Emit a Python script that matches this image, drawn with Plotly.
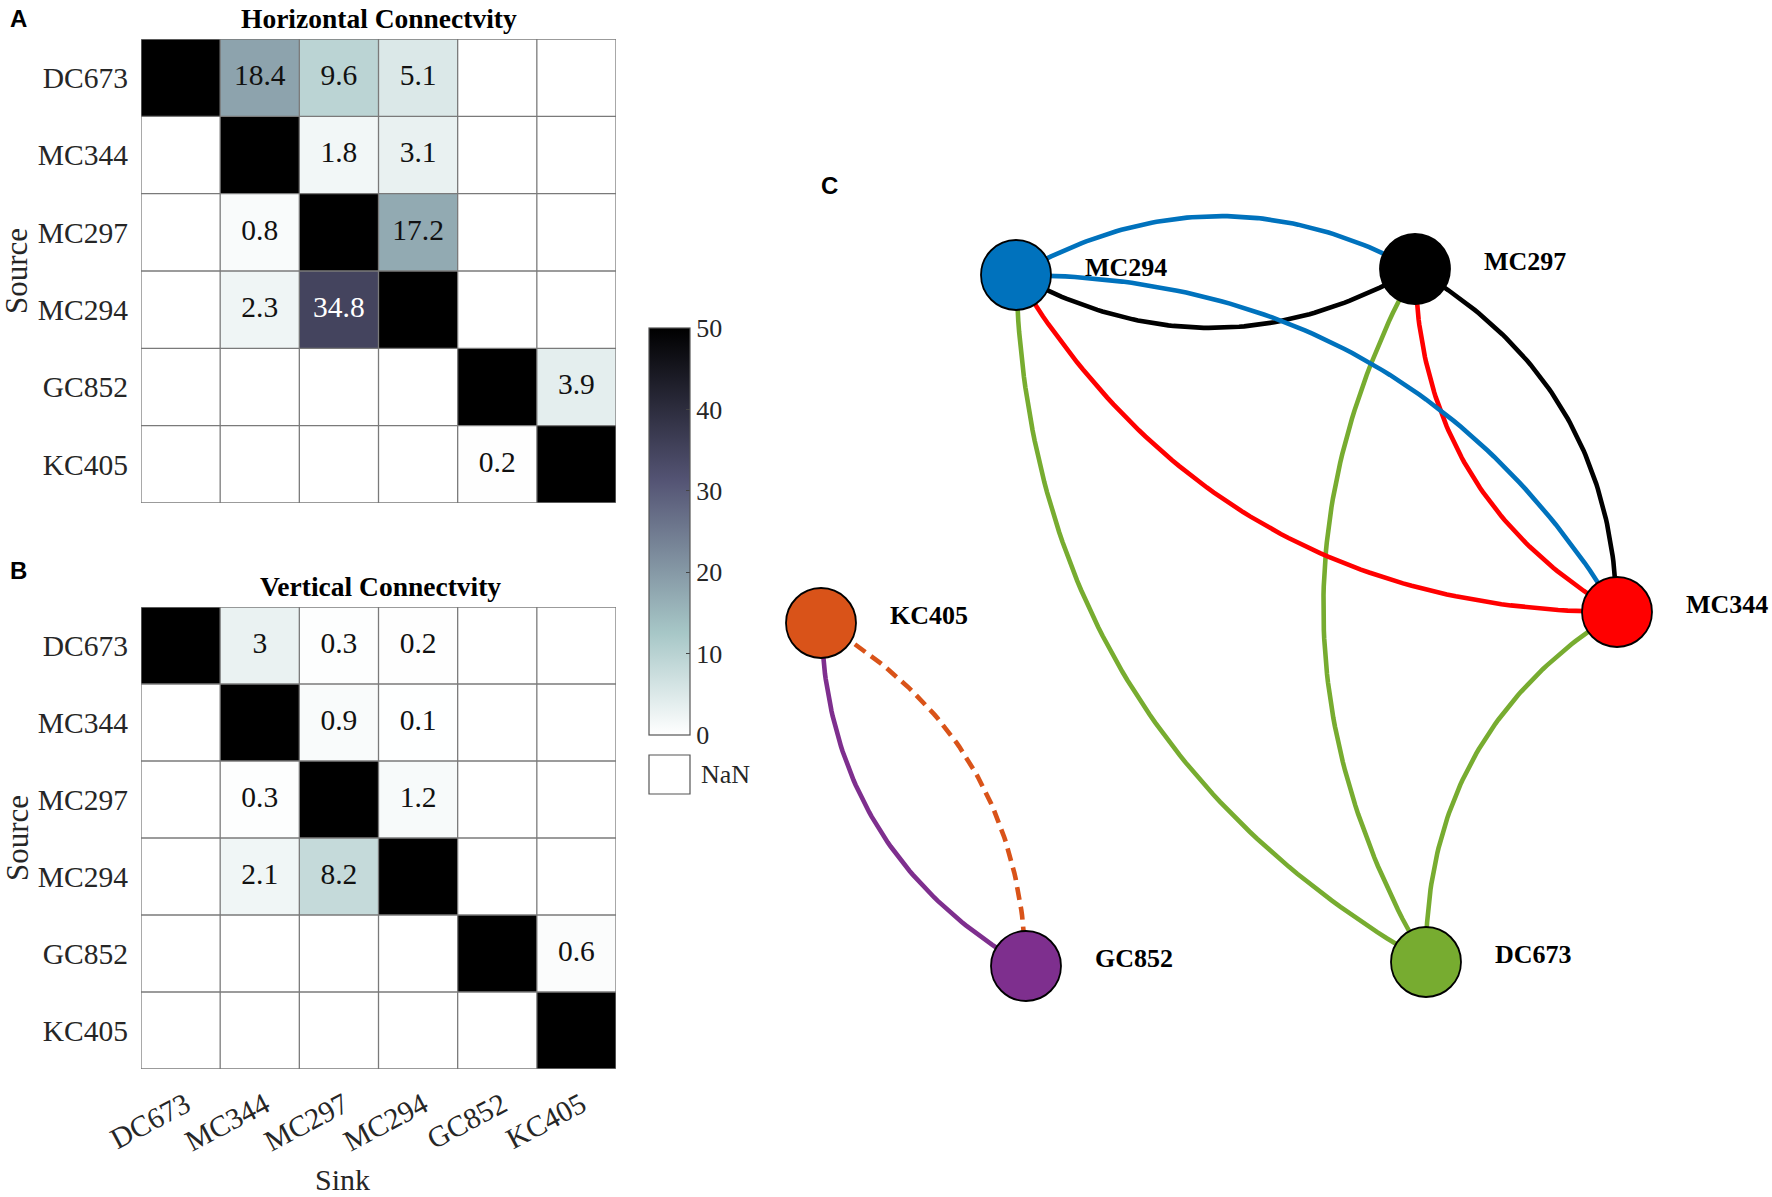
import numpy as np
import plotly.graph_objects as go

# ---------------- data ----------------
sites = ["DC673", "MC344", "MC297", "MC294", "GC852", "KC405"]

# rows = source, columns = sink (None = NaN / no connection)
horizontal = [
    [None, 18.4, 9.6, 5.1, None, None],
    [None, None, 1.8, 3.1, None, None],
    [None, 0.8, None, 17.2, None, None],
    [None, 2.3, 34.8, None, None, None],
    [None, None, None, None, None, 3.9],
    [None, None, None, None, 0.2, None],
]
vertical = [
    [None, 3, 0.3, 0.2, None, None],
    [None, None, 0.9, 0.1, None, None],
    [None, 0.3, None, 1.2, None, None],
    [None, 2.1, 8.2, None, None, None],
    [None, None, None, None, None, 0.6],
    [None, None, None, None, None, None],
]
self_value = 100          # diagonal (self-retention) drawn saturated
colorbar_ticks = [0, 10, 20, 30, 40, 50]

# ---------------- styles / layout ----------------
W, H = 1772, 1197
SERIF = "Liberation Serif"
SANS = "Liberation Sans"
TXT = "#262626"

node_pos = {  # panel C node centres (pixel space)
    "MC294": (1016, 275), "MC297": (1415, 269), "MC344": (1617, 612),
    "DC673": (1426, 962), "GC852": (1026, 966), "KC405": (821, 623),
}
node_color = {
    "MC294": "#0072BD", "MC297": "#000000", "MC344": "#FF0000",
    "DC673": "#77AC30", "GC852": "#7E2F8E", "KC405": "#D95319",
}
dashed_edges = {("KC405", "GC852")}

bone_r = [[0.0, "rgb(255,255,255)"], [0.25, "rgb(167,199,199)"],
          [0.625, "rgb(84,84,116)"], [1.0, "rgb(0,0,0)"]]


def px_x(p):
    return p / W


def px_y(p):
    return 1 - p / H


def with_diag(m):
    out = [list(r) for r in m]
    for i in range(len(out)):
        out[i][i] = self_value
    return out


def fmt(v):
    return f"{v:g}"


fig = go.Figure()

grids = [("x", "y", horizontal), ("x2", "y2", vertical)]
for xa, ya, mat in grids:
    fig.add_trace(go.Heatmap(z=with_diag(mat), x=sites, y=sites, coloraxis="coloraxis",
                             xaxis=xa, yaxis=ya, hoverongaps=False))
    tx, ty, tt, tc = [], [], [], []
    for i, row in enumerate(mat):
        for j, v in enumerate(row):
            if v is not None:
                tx.append(sites[j]); ty.append(sites[i]); tt.append(fmt(v))
                tc.append("#ffffff" if v > 30 else "#111111")
    fig.add_trace(go.Scatter(x=tx, y=ty, text=tt, mode="text", xaxis=xa, yaxis=ya,
                             textfont=dict(family=SERIF, size=29.5, color=tc),
                             hoverinfo="skip", showlegend=False))
    n = len(sites)
    for b in range(n + 1):
        fig.add_shape(type="line", xref=xa, yref=ya, x0=b - 0.5, x1=b - 0.5, y0=-0.5, y1=n - 0.5,
                      line=dict(color="#7a7a7a", width=1.3))
        fig.add_shape(type="line", xref=xa, yref=ya, y0=b - 0.5, y1=b - 0.5, x0=-0.5, x1=n - 0.5,
                      line=dict(color="#7a7a7a", width=1.3))

# ---------------- network (panel C) ----------------
edges = []
for i, row in enumerate(horizontal):
    for j, v in enumerate(row):
        if v is not None and i != j:
            edges.append((sites[i], sites[j], v))

t = np.linspace(0, 1, 80)
for src, dst, v in edges:
    x0, y0 = node_pos[src]
    x2, y2 = node_pos[dst]
    dx, dy = x2 - x0, y2 - y0
    L = np.hypot(dx, dy)
    nx, ny = dy / L, -dx / L
    s = 0.14 * L
    cx, cy = (x0 + x2) / 2 + 2 * s * nx, (y0 + y2) / 2 + 2 * s * ny
    bx = (1 - t) ** 2 * x0 + 2 * (1 - t) * t * cx + t ** 2 * x2
    by = (1 - t) ** 2 * y0 + 2 * (1 - t) * t * cy + t ** 2 * y2
    dashed = (src, dst) in dashed_edges
    fig.add_trace(go.Scatter(x=bx, y=by, mode="lines", xaxis="x3", yaxis="y3",
                             line=dict(color=node_color[src], width=4.6,
                                       dash="13px,7px" if dashed else "solid"),
                             hoverinfo="skip", showlegend=False))

names = list(node_pos.keys())
fig.add_trace(go.Scatter(
    x=[node_pos[k][0] for k in names], y=[node_pos[k][1] for k in names],
    mode="markers", xaxis="x3", yaxis="y3", showlegend=False, text=names, hoverinfo="text",
    marker=dict(size=70, color=[node_color[k] for k in names], line=dict(color="#000", width=1.8))))

annotations = []
for k in names:
    annotations.append(dict(x=node_pos[k][0] + 67, y=node_pos[k][1] - 8, xref="x3", yref="y3",
                            text=f"<b>{k}</b>", showarrow=False, xanchor="left", yanchor="middle",
                            font=dict(family=SERIF, size=26, color="#000")))

# ---------------- texts ----------------
def ann(text, x, y, size, family=SERIF, color="#000", xanchor="center", angle=0):
    annotations.append(dict(x=px_x(x), y=px_y(y), xref="paper", yref="paper", text=text,
                            showarrow=False, xanchor=xanchor, yanchor="middle", textangle=angle,
                            font=dict(family=family, size=size, color=color)))


ann("<b>Horizontal Connectvity</b>", 379, 19, 27.5)
ann("<b>Vertical Connectvity</b>", 380, 587, 27.5)
ann("<b>A</b>", 18, 19, 24, family=SANS)
ann("<b>B</b>", 18, 570, 24, family=SANS)
ann("<b>C</b>", 829, 185, 24, family=SANS)
ann("Source", 17, 271, 31, color=TXT, angle=-90)
ann("Source", 17, 838, 31, color=TXT, angle=-90)
ann("Sink", 342, 1179, 30, color=TXT)
ann("NaN", 699, 774, 26, color=TXT, xanchor="left")

shapes_extra = [dict(type="rect", xref="paper", yref="paper", x0=px_x(649), x1=px_x(690),
                     y0=px_y(794), y1=px_y(755), line=dict(color="#555", width=1.2),
                     fillcolor="white")]

axis_common = dict(showgrid=False, zeroline=False, showline=False, ticks="", automargin=False,
                   tickfont=dict(family=SERIF, size=29.5, color=TXT))

fig.update_layout(
    width=W, height=H, margin=dict(l=0, r=0, t=0, b=0, autoexpand=False),
    paper_bgcolor="white", plot_bgcolor="white", showlegend=False,
    coloraxis=dict(
        colorscale=bone_r, cmin=0, cmax=50,
        colorbar=dict(x=px_x(649), xanchor="left", y=px_y(328), yanchor="top",
                      lenmode="pixels", len=407, thickness=41, thicknessmode="pixels",
                      outlinewidth=1.2, outlinecolor="#555", xpad=0, ypad=0,
                      tickvals=colorbar_ticks, ticks="inside", ticklen=4, tickcolor="#444",
                      tickfont=dict(family=SERIF, size=26, color=TXT))),
    xaxis=dict(domain=[px_x(141), px_x(616)], range=[-0.5, 5.5], showticklabels=False,
               anchor="y", **axis_common),
    yaxis=dict(domain=[px_y(503), px_y(39)], range=[5.5, -0.5], anchor="x",
               ticklabelstandoff=12, **axis_common),
    xaxis2=dict(domain=[px_x(141), px_x(616)], range=[-0.5, 5.5], tickangle=-28,
                anchor="y2", ticklabelstandoff=12, ticklabelshift=5, **axis_common),
    yaxis2=dict(domain=[px_y(1069), px_y(607)], range=[5.5, -0.5], anchor="x2",
                ticklabelstandoff=12, **axis_common),
    xaxis3=dict(domain=[px_x(760), 1], range=[760, W], visible=False, anchor="y3"),
    yaxis3=dict(domain=[0, 1], range=[H, 0], visible=False, anchor="x3"),
    annotations=annotations,
)
for s in shapes_extra:
    fig.add_shape(**s)

fig.write_html("out.html", config={"displayModeBar": False},
               post_script="document.body.style.margin='0px';document.body.style.overflow='hidden';")
